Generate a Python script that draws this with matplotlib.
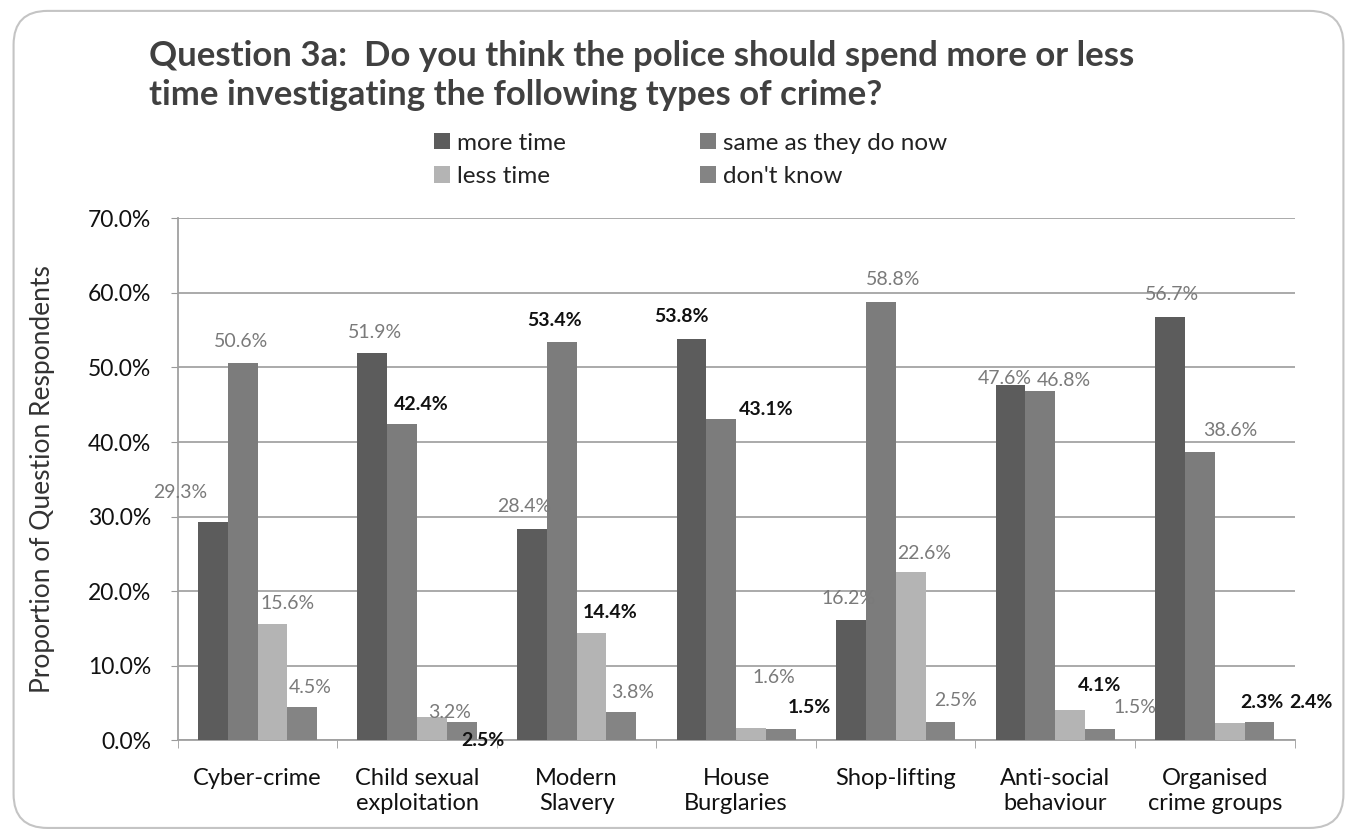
import numpy as np
import matplotlib
matplotlib.use("Agg")
import matplotlib.pyplot as plt
from matplotlib.patches import FancyBboxPatch, Patch
from matplotlib.ticker import MultipleLocator, FuncFormatter

plt.rcParams['font.family'] = ['Lato', 'DejaVu Sans']

# survey results, % of respondents per crime type
categories = ['Cyber-crime', 'Child sexual\nexploitation', 'Modern\nSlavery', 'House\nBurglaries',
              'Shop-lifting', 'Anti-social\nbehaviour', 'Organised\ncrime groups']
series_names = ['more time', 'same as they do now', 'less time', "don't know"]
more_time = [29.3, 51.9, 28.4, 53.8, 16.2, 47.6, 56.7]
same_now = [50.6, 42.4, 53.4, 43.1, 58.8, 46.8, 38.6]
less_time = [15.6, 3.2, 14.4, 1.6, 22.6, 4.1, 2.3]
dont_know = [4.5, 2.5, 3.8, 1.5, 2.5, 1.5, 2.4]

values = [more_time, same_now, less_time, dont_know]
colors = ['#5c5c5c', '#7c7c7c', '#b4b4b4', '#848484']

# label nudges in pixels (dx right, dy up) and text colour, per series then category
label_dx = [[-33, 3, -8, -10, -2, -6, 2],
            [-2, 19, -7, 45, 12, 23, 30],
            [15, 18, 19, 23, 14, 29, 32],
            [8, 21, 11, 28, 15, 35, 51]]
label_dy = [[29, 21, 22, 23, 21, 7, 23],
            [21, 20, 22, 9, 22, 11, 22],
            [21, 4, 20, 51, 18, 24, 21],
            [19, -19, 20, 22, 21, 22, 20]]
label_dark = [[0, 0, 0, 1, 0, 0, 0],
              [0, 1, 1, 1, 0, 0, 0],
              [0, 0, 1, 0, 0, 1, 1],
              [0, 1, 0, 1, 0, 0, 1]]

fig = plt.figure(figsize=(13.57, 8.38), dpi=100)
fig.patch.set_facecolor('white')

# rounded chart border
frame = FancyBboxPatch((0.010, 0.012), 0.980, 0.975, boxstyle="round,pad=0,rounding_size=0.025",
                       transform=fig.transFigure, facecolor='none', edgecolor='#c4c4c4', linewidth=1.5,
                       mutation_aspect=1357/838)
fig.patches.append(frame)

ax = fig.add_axes([0.131, 0.1165, 0.823, 0.623])

x = np.arange(len(categories))
w = 0.187
for i, (vals, col) in enumerate(zip(values, colors)):
    pos = x + (i - 1.5) * w
    ax.bar(pos, vals, width=w, color=col, edgecolor='none', zorder=3, label=series_names[i])
    for j, v in enumerate(vals):
        dark = label_dark[i][j]
        ax.annotate('%.1f%%' % v, (pos[j], v), xytext=(label_dx[i][j] * 0.72, label_dy[i][j] * 0.72),
                    textcoords='offset points', ha='center', va='center', fontsize=14,
                    color='#111111' if dark else '#7a7a7a',
                    fontweight='bold' if dark else 'normal', zorder=4)

ax.set_xlim(-0.5, len(categories) - 0.5)
ax.set_ylim(0, 70)
ax.yaxis.set_major_locator(MultipleLocator(10))
ax.yaxis.set_major_formatter(FuncFormatter(lambda v, p: '%.1f%%' % v))
ax.grid(axis='y', color='#a4a4a4', linewidth=1.3, zorder=0)

ax.set_xticks(x)
ax.set_xticklabels(categories, fontsize=17, color='#111111', linespacing=1.25)
ax.set_xticks(np.arange(len(categories) + 1) - 0.5, minor=True)
ax.tick_params(axis='x', which='major', length=0, pad=20)
ax.tick_params(axis='x', which='minor', length=6, color='#9a9a9a', direction='out')
ax.tick_params(axis='y', labelsize=16.5, labelcolor='#111111', length=5, color='#9a9a9a', pad=14)

for s in ['top', 'right']:
    ax.spines[s].set_visible(False)
ax.spines['left'].set_color('#a0a0a0')
ax.spines['left'].set_linewidth(1.3)
ax.spines['bottom'].set_color('#a0a0a0')
ax.spines['bottom'].set_linewidth(1.3)

ax.set_ylabel('Proportion of Question Respondents', fontsize=19, color='#333333')
ax.yaxis.set_label_coords(-0.110, 0.5)

fig.text(0.110, 0.910, 'Question 3a:  Do you think the police should spend more or less\n'
         'time investigating the following types of crime?',
         fontsize=25, fontweight='bold', color='#404040', ha='left', va='center', linespacing=1.3)

# legend fills column-wise, so order the entries to read across rows
order = [0, 2, 1, 3]
handles = [Patch(facecolor=colors[k], edgecolor='none') for k in order]
fig.legend(handles, [series_names[k] for k in order], loc='upper left', bbox_to_anchor=(0.311, 0.856),
           ncol=2, frameon=False, fontsize=17.5, handlelength=0.65, handleheight=0.65, handletextpad=0.3,
           columnspacing=5.5, labelspacing=0.5, labelcolor='#222222', borderpad=0)

fig.savefig('out.png', dpi=100, facecolor='white')
